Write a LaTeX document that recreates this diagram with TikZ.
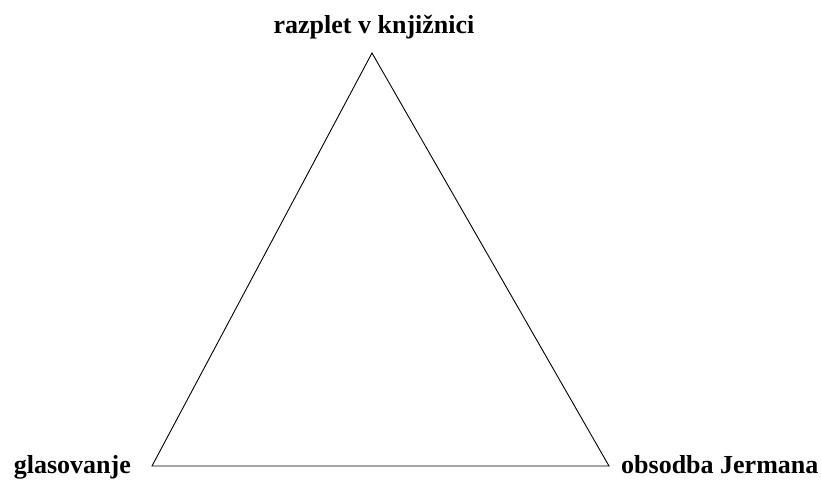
\documentclass[tikz,border=0pt]{standalone}
\usepackage{fontspec}
\setmainfont{Liberation Serif}
\usepackage{tikz}
\usetikzlibrary{positioning}
\tikzset{lbl/.style={inner sep=0pt, font=\fontsize{26}{31}\selectfont\bfseries}}
\begin{document}
\begin{tikzpicture}[x=1pt, y=-1pt]
            \useasboundingbox (0, 0) rectangle (821, 479);
            \coordinate (x1) at (372, 53);
            \coordinate (x2) at (152, 466);
            \coordinate (x3) at (609, 466);
            \draw[line width=0.9pt] (x1) -- (x2) -- (x3) -- cycle;
            \node[lbl, anchor=base] (razplet) at (374, 33) {razplet v knjižnici};
            \node[lbl, anchor=base east] (glas) at (131, 473) {glasovanje};
            \node[lbl, anchor=base west] (obsodba) at (621, 473) {obsodba Jermana};
          \end{tikzpicture}
\end{document}
